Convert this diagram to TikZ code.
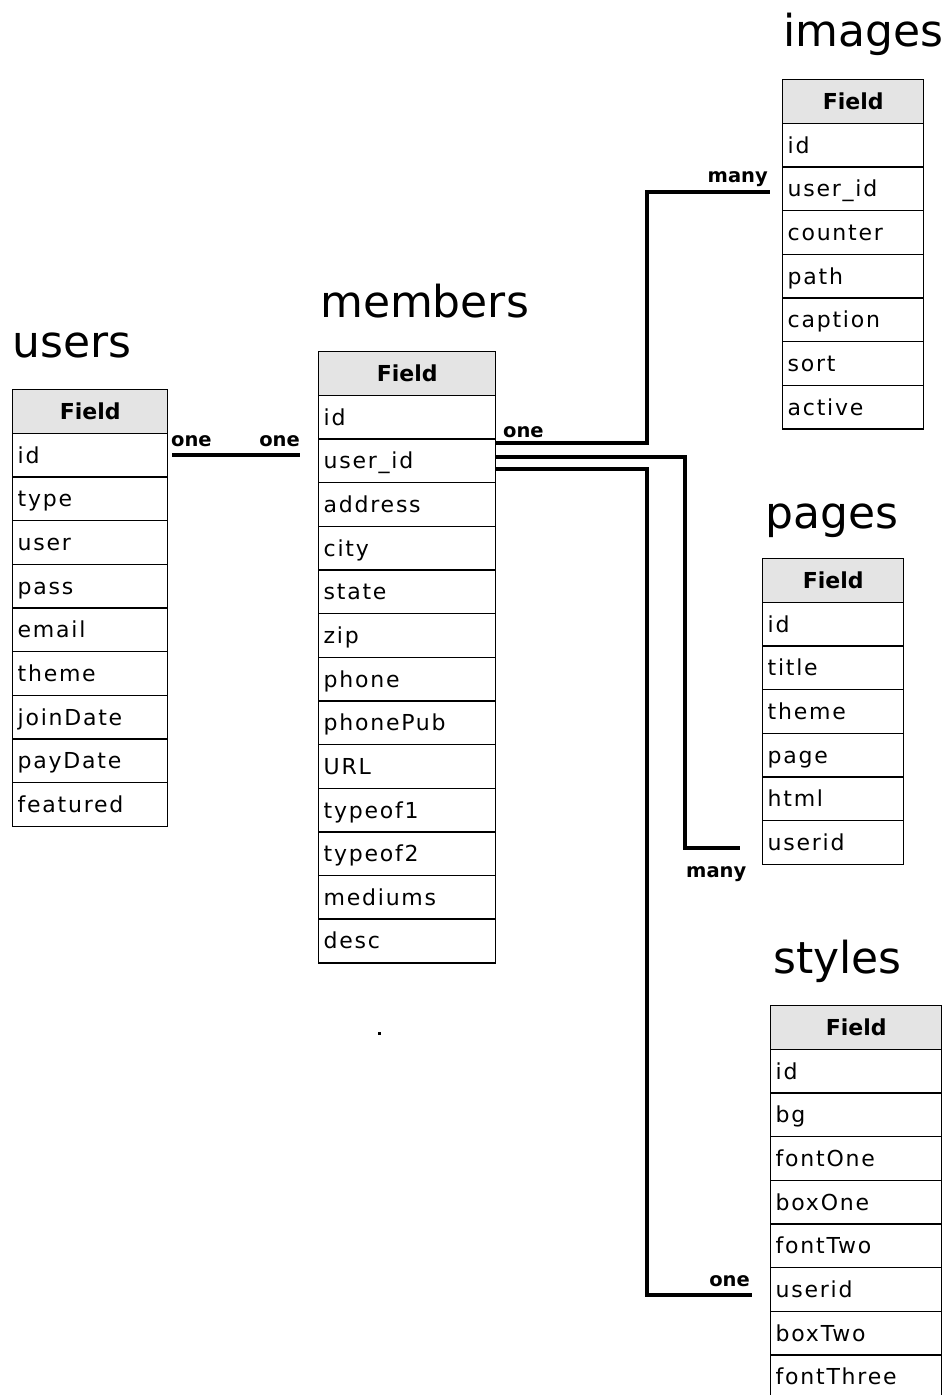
\documentclass[tikz,border=0pt]{standalone}
\usepackage{fontspec}
\setmainfont{DejaVu Sans}
\newfontfamily\fieldfont[LetterSpace=8]{DejaVu Sans}
\usetikzlibrary{calc}
\definecolor{hdrgray}{HTML}{E4E4E4}
\tikzset{
  cellbox/.style={draw=black, line width=1.4pt, rectangle, minimum height=43.65pt,
     inner xsep=5pt, inner ysep=0pt, text height=20pt, text depth=4pt, align=left, anchor=north west},
  hdrbox/.style={cellbox, fill=hdrgray, align=center, font=\bfseries\fontsize{22}{24}\selectfont},
  rowbox/.style={cellbox, fill=white, font=\fieldfont\fontsize{22}{24}\selectfont},
  tabletitle/.style={anchor=base west, inner sep=0pt, font=\fontsize{44}{48}\selectfont},
  conn/.style={draw=black, line width=4pt},
  cardlabel/.style={inner sep=0pt, font=\bfseries\fontsize{19.5}{21}\selectfont},
}
\newcommand{\mktable}[5]{%
  \node[hdrbox, minimum width=#4pt, text width=#4pt-10pt] (#1-h) at (#2,#3) {Field};
  \foreach \f [count=\i] in {#5} {
    \node[rowbox, minimum width=#4pt, text width=#4pt-10pt] (#1-\i) at (#2,{#3+\i*43.65}) {\f};
  }%
}
\begin{document}
\begin{tikzpicture}[x=1pt,y=-1pt]
\clip (0,0) rectangle (948,1395);
\fill[white] (0,0) rectangle (948,1395);

% titles
\node[tabletitle] (users-t) at (12,357) {users};
\node[tabletitle] (members-t) at (320,317) {members};
\node[tabletitle] (images-t) at (783,46) {images};
\node[tabletitle] (pages-t) at (765,528) {pages};
\node[tabletitle] (styles-t) at (773,973) {styles};

% tables
\mktable{users}{12}{389}{155}{id,type,user,pass,email,theme,joinDate,payDate,featured}
\mktable{members}{318}{351}{177}{id,user\_id,address,city,state,zip,phone,phonePub,URL,typeof1,typeof2,mediums,desc}
\mktable{images}{782}{79}{141}{id,user\_id,counter,path,caption,sort,active}
\mktable{pages}{762}{558}{141}{id,title,theme,page,html,userid}
\mktable{styles}{770}{1005}{171}{id,bg,fontOne,boxOne,fontTwo,userid,boxTwo,fontThree}

% connectors
\draw[conn] ([xshift=4pt]users-1.east) -- ([xshift=-18pt]users-1.east -| members-2.west);
\draw[conn] ([yshift=-5pt]members-2.north east) -- ++(151,0) |- ([xshift=-12pt,yshift=-3pt]images-2.west);
\draw[conn] ([yshift=-19pt]members-2.north east) -- ++(189,0) |- ([xshift=-22pt,yshift=-6pt]pages-6.west);
\draw[conn] ([yshift=-31pt]members-2.north east) -- ++(151,0) |- ([xshift=-18pt,yshift=-6pt]styles-6.west);

% cardinality labels
\node[cardlabel, anchor=base west] (l1) at (171,446) {one};
\node[cardlabel, anchor=base east] (l2) at (300,446) {one};
\node[cardlabel, anchor=base west] (l3) at (503,437) {one};
\node[cardlabel, anchor=base east] (l4) at (768,182) {many};
\node[cardlabel, anchor=base west] (l5) at (686,877) {many};
\node[cardlabel, anchor=base east] (l6) at (750,1286) {one};

% stray dot
\fill[black] (377.5,1031.5) rectangle (380.5,1034.5);
\end{tikzpicture}
\end{document}
